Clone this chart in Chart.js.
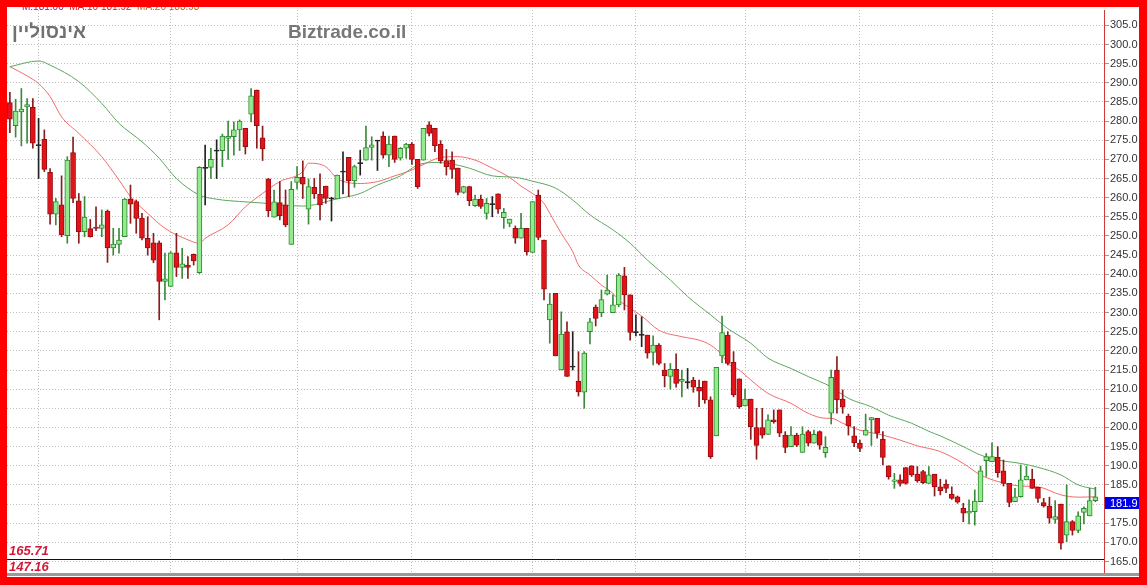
<!DOCTYPE html>
<html>
<head>
<meta charset="utf-8">
<script src="https://cdn.jsdelivr.net/npm/chart.js@4.4.1/dist/chart.umd.min.js"></script>
<style>
  body { margin: 0; background: #fff; }
  #wrap { position: relative; width: 1147px; height: 585px; overflow: hidden; }
  #chart { position: absolute; left: 0; top: 0; }
  .frame { position: absolute; background: #ff0000; }
  .lbl { position: absolute; white-space: nowrap; line-height: 1; }
</style>
</head>
<body>
<div id="wrap">
  <canvas id="chart" width="1147" height="585"></canvas>
  <div class="lbl" style="left:22px;top:1px;font:10px Arial;"><span style="color:#6a2d8a">M:181.00</span>&nbsp;&nbsp;<span style="color:#d22">MA:10 181.92</span>&nbsp;&nbsp;<span style="color:#b07020">MA:20 183.93</span></div>
  <div class="frame" style="left:0;top:0;width:1147px;height:7px;"></div>
  <div class="frame" style="left:0;top:0;width:7px;height:585px;"></div>
  <div class="frame" style="left:1139px;top:0;width:8px;height:585px;"></div>
  <div class="frame" style="left:0;top:577px;width:1147px;height:8px;"></div>
  <div style="position:absolute;left:7px;top:573px;width:1132px;height:3px;background:#9a9a9a;"></div>
  <div class="lbl" style="left:12px;top:21px;font:bold 19px Arial;color:#707070;direction:rtl;">אינסוליין</div>
  <div class="lbl" style="left:288px;top:21px;font:bold 19px Arial;color:#777;">Biztrade.co.il</div>
  <div class="lbl" style="left:9px;top:543px;font:italic bold 13px Arial;color:#d01a3a;">165.71</div>
  <div class="lbl" style="left:9px;top:559px;font:italic bold 13px Arial;color:#d01a3a;">147.16</div>
</div>
<script>
const opens = [
  284.8, 278.8, 282.4, 283.7, 283.6, 273.7, 275.2, 266.6, 255.7, 258.1,
  250.1, 271.8, 259.2, 251.1, 251.9, 252.3, 252.0, 256.5, 246.9, 247.8,
  249.8, 259.6, 259.0, 254.7, 249.4, 248.2, 248.2, 238.1, 236.8, 245.6,
  241.8, 242.4, 245.2, 240.4, 267.8, 267.9, 272.3, 272.3, 275.5, 275.9,
  277.7, 278.1, 281.8, 288.1, 275.6, 264.9, 254.9, 258.7, 258.1, 247.8,
  264.0, 265.3, 257.0, 262.7, 260.9, 263.0, 259.8, 259.7, 266.8, 270.5,
  264.4, 269.0, 269.8, 273.1, 274.9, 276.1, 271.1, 276.1, 270.3, 272.9,
  274.0, 270.0, 269.8, 279.0, 278.1, 273.9, 269.7, 269.8, 267.7, 261.4,
  262.9, 257.9, 259.6, 255.9, 258.3, 261.0, 254.8, 253.3, 252.0, 249.4,
  252.0, 245.7, 260.7, 248.9, 228.1, 235.0, 215.0, 225.0, 215.9, 212.1,
  209.2, 225.0, 231.4, 230.0, 234.8, 230.0, 232.0, 239.6, 234.6, 224.9,
  224.2, 224.1, 219.6, 221.5, 215.0, 213.3, 215.2, 212.0, 211.8, 212.4,
  210.5, 212.1, 207.2, 197.8, 218.7, 224.1, 217.0, 212.7, 205.6, 207.4,
  200.0, 200.0, 198.2, 202.0, 204.6, 198.0, 195.0, 198.0, 193.5, 198.9,
  195.9, 198.9, 193.4, 203.7, 215.0, 207.4, 203.0, 197.8, 195.9, 198.0,
  202.0, 202.4, 196.9, 190.0, 185.9, 186.3, 189.5, 190.0, 187.8, 188.5,
  185.4, 187.8, 184.5, 185.2, 182.6, 181.9, 178.9, 177.6, 178.0, 180.6,
  191.3, 191.1, 192.2, 188.7, 185.4, 180.6, 181.9, 186.3, 186.5, 184.4,
  180.4, 179.5, 176.0, 180.0, 171.9, 175.4, 173.1, 177.8, 176.9, 180.9,
];
const highs = [
  287.5, 285.7, 288.5, 285.9, 285.9, 280.7, 277.7, 267.6, 259.8, 265.7,
  270.7, 275.8, 261.1, 260.3, 254.3, 257.6, 256.8, 256.8, 252.0, 252.0,
  259.8, 263.3, 259.4, 255.9, 255.0, 250.7, 248.7, 245.5, 245.9, 250.7,
  246.8, 244.6, 245.3, 268.1, 273.7, 272.9, 275.1, 276.6, 280.0, 279.8,
  280.3, 278.1, 288.5, 288.1, 278.7, 265.0, 262.0, 264.2, 262.0, 264.2,
  268.1, 269.6, 264.9, 265.0, 266.2, 263.0, 260.1, 265.9, 272.0, 270.5,
  268.5, 272.4, 278.7, 275.9, 275.0, 277.2, 276.1, 276.1, 273.1, 274.2,
  274.4, 270.0, 278.1, 279.8, 278.1, 274.9, 272.6, 272.0, 267.7, 263.0,
  263.0, 260.7, 260.7, 259.8, 260.3, 261.0, 257.2, 254.4, 252.6, 255.9,
  252.0, 259.0, 262.0, 248.9, 235.0, 235.0, 230.2, 227.6, 225.0, 219.8,
  219.8, 228.5, 232.0, 235.9, 239.8, 234.6, 240.2, 241.8, 234.6, 229.4,
  228.9, 224.1, 223.9, 221.9, 216.7, 216.7, 219.2, 215.0, 215.4, 213.1,
  212.4, 212.1, 208.0, 215.7, 229.1, 225.0, 219.8, 212.7, 210.0, 207.4,
  205.0, 205.0, 203.3, 204.6, 204.6, 198.9, 200.2, 198.5, 200.2, 199.3,
  199.3, 199.1, 197.6, 215.0, 218.5, 209.8, 203.5, 200.2, 196.7, 203.5,
  202.6, 202.4, 198.9, 190.0, 188.0, 187.6, 189.5, 190.0, 189.8, 188.8,
  189.8, 187.8, 186.5, 186.3, 184.5, 182.1, 180.2, 181.1, 183.7, 189.9,
  193.2, 196.0, 195.0, 191.5, 185.4, 184.1, 190.2, 189.9, 189.1, 184.4,
  181.5, 181.8, 180.9, 180.0, 185.0, 175.7, 178.0, 179.3, 184.1, 184.4,
];
const lows = [
  277.0, 275.8, 273.5, 274.2, 272.9, 265.0, 266.8, 253.1, 252.9, 249.8,
  248.1, 258.7, 248.1, 249.8, 249.7, 251.4, 249.8, 243.1, 245.0, 245.5,
  249.8, 253.3, 250.7, 249.0, 245.0, 243.0, 228.1, 233.3, 236.8, 239.4,
  238.9, 238.9, 242.4, 240.2, 258.1, 265.0, 265.0, 268.1, 270.0, 271.1,
  272.3, 271.4, 279.8, 272.9, 269.7, 255.0, 254.9, 254.2, 252.4, 247.8,
  262.2, 259.8, 253.1, 259.8, 254.2, 258.5, 253.9, 259.7, 261.0, 260.3,
  262.7, 265.9, 269.8, 269.8, 267.1, 270.3, 268.1, 269.2, 269.8, 270.3,
  268.7, 262.4, 269.8, 276.1, 272.0, 269.0, 265.9, 265.0, 260.7, 261.1,
  257.9, 257.7, 257.2, 254.4, 255.0, 255.9, 252.0, 252.4, 248.1, 249.4,
  245.0, 245.7, 249.0, 233.3, 222.0, 218.7, 215.0, 213.3, 215.0, 208.2,
  205.0, 221.8, 226.5, 228.9, 234.6, 230.0, 231.5, 230.7, 222.8, 223.9,
  221.1, 218.1, 216.3, 216.3, 210.6, 210.0, 210.5, 208.0, 210.2, 209.2,
  205.4, 206.3, 191.9, 197.8, 216.9, 216.3, 208.0, 205.0, 205.6, 196.9,
  191.7, 197.2, 198.2, 201.1, 197.6, 193.4, 195.0, 195.0, 193.5, 195.2,
  195.9, 194.3, 192.2, 200.9, 203.7, 203.7, 198.0, 195.0, 193.7, 198.0,
  195.3, 197.2, 190.2, 186.5, 184.1, 184.7, 185.2, 187.2, 185.7, 185.3,
  185.4, 182.1, 182.4, 183.0, 181.2, 180.2, 175.4, 174.8, 174.5, 180.6,
  187.2, 191.1, 187.0, 184.7, 179.3, 180.6, 181.8, 186.3, 184.1, 180.4,
  179.2, 175.0, 175.0, 168.2, 170.2, 171.9, 172.5, 174.8, 176.9, 180.6,
];
const closes = [
  280.5, 282.6, 283.1, 284.3, 274.2, 273.7, 267.4, 255.7, 259.0, 250.3,
  269.8, 259.8, 251.1, 254.9, 249.8, 252.0, 252.9, 246.9, 247.9, 248.9,
  259.6, 258.3, 254.6, 249.4, 246.9, 243.7, 238.1, 238.8, 245.6, 241.8,
  242.7, 241.8, 243.5, 267.9, 267.8, 270.0, 272.3, 276.1, 276.0, 277.7,
  280.0, 273.3, 286.6, 278.8, 272.7, 256.6, 258.9, 255.3, 252.9, 262.2,
  265.3, 263.5, 262.9, 261.0, 258.1, 259.8, 259.8, 265.9, 266.8, 264.4,
  268.1, 269.0, 273.1, 273.8, 274.9, 271.1, 274.0, 270.0, 272.9, 274.0,
  270.0, 262.9, 278.1, 276.8, 273.6, 269.6, 268.1, 267.4, 261.4, 262.9,
  259.2, 259.6, 257.7, 258.5, 258.3, 257.0, 256.2, 254.4, 249.4, 252.0,
  245.9, 259.0, 249.6, 236.1, 232.2, 218.7, 224.4, 213.3, 215.9, 209.3,
  219.4, 227.6, 228.5, 233.4, 235.9, 232.0, 239.8, 234.6, 224.8, 224.9,
  224.2, 219.4, 221.5, 216.7, 213.5, 215.2, 211.5, 212.6, 211.8, 210.5,
  209.5, 207.2, 192.4, 215.7, 224.8, 216.7, 208.5, 205.4, 207.4, 200.2,
  195.3, 198.0, 202.0, 201.5, 198.5, 194.8, 198.0, 195.4, 198.3, 195.9,
  198.2, 195.4, 194.8, 213.1, 207.2, 205.3, 200.4, 196.0, 194.5, 199.3,
  202.6, 198.5, 192.2, 187.1, 186.3, 185.4, 185.4, 187.6, 186.1, 185.6,
  187.6, 184.5, 183.5, 184.1, 181.5, 180.5, 177.6, 178.2, 180.8, 188.7,
  192.4, 192.4, 188.2, 185.4, 180.4, 181.9, 186.3, 187.3, 184.1, 181.5,
  179.5, 176.3, 176.7, 169.8, 175.4, 173.1, 176.9, 178.9, 180.9, 181.9,
];

// moving averages at sample candles
const maShortIdx = [0, 3, 5, 7, 9, 12, 16, 19, 21, 24, 27, 31, 33, 34, 38, 41, 44, 47, 51, 52, 55, 57, 61, 64, 67, 70, 73, 75, 78, 81, 84, 87, 89, 91, 93, 94, 96, 98, 99, 101, 103, 105, 106, 108, 110, 113, 117, 120, 122, 124, 125, 127, 129, 132, 136, 139, 142, 143, 145, 148, 152, 155, 158, 162, 166, 169, 172, 176, 179, 183, 186, 189];
const maShortVal = [294.2, 291.8, 289.8, 286.4, 281.1, 276.8, 270.7, 264.6, 260.3, 255.9, 252.0, 249.0, 248.1, 249.4, 252.9, 257.6, 261.1, 264.2, 266.8, 269.0, 268.1, 265.0, 263.7, 264.2, 265.7, 267.2, 269.4, 270.5, 270.7, 269.8, 267.7, 265.3, 263.0, 261.1, 258.5, 255.9, 250.7, 245.9, 242.4, 239.8, 237.2, 235.0, 233.3, 231.1, 229.1, 225.4, 223.7, 222.8, 221.5, 218.9, 216.7, 215.0, 212.4, 208.9, 206.3, 203.7, 202.4, 202.4, 201.1, 199.3, 198.0, 196.7, 195.2, 193.7, 190.6, 187.6, 185.9, 184.7, 184.5, 182.4, 181.8, 181.9];
const maLongIdx = [0, 5, 7, 12, 16, 19, 23, 26, 29, 33, 36, 40, 44, 47, 51, 57, 61, 64, 68, 71, 74, 77, 80, 84, 88, 91, 95, 98, 101, 105, 108, 111, 115, 118, 122, 125, 129, 132, 136, 139, 143, 146, 150, 153, 157, 160, 162, 166, 169, 172, 176, 179, 183, 186, 189];
const maLongVal = [294.2, 295.7, 294.6, 290.3, 284.6, 279.4, 274.6, 270.3, 265.0, 260.7, 259.6, 259.0, 258.6, 258.1, 257.8, 259.7, 261.1, 263.3, 265.7, 268.5, 269.2, 268.8, 267.7, 265.7, 265.3, 264.3, 262.5, 259.4, 255.5, 251.6, 248.1, 243.7, 238.5, 234.2, 229.4, 225.8, 222.0, 218.1, 215.4, 213.3, 210.6, 207.6, 205.4, 203.2, 201.1, 199.0, 197.8, 195.0, 192.8, 191.5, 190.6, 189.6, 187.6, 185.0, 183.9];

// first trading day of each month (vertical grid)
const monthStarts = [5, 28, 50, 70, 91, 109, 128, 148, 171];
const levelLines = [165.71, 147.16];

// one spare slot at the right edge
const labels = Array.from({ length: opens.length + 1 }, (_, i) => i);

const kind = (i) => {
  if (closes[i] > opens[i]) return 'up';
  if (closes[i] < opens[i]) return 'down';
  return 'flat';
};

const bodyFill = { up: '#93ea8f', down: '#e2141a', flat: '#222222' };
const bodyEdge = { up: '#2f8a2f', down: '#9a0c10', flat: '#222222' };
const wickColor = { up: '#3c8a3c', down: '#8a1c1c', flat: '#222222' };

const bodies = opens.map((o, i) => {
  const c = closes[i];
  if (Math.abs(o - c) < 0.3) {
    return [c - 0.15, c + 0.15];
  }
  return [Math.min(o, c), Math.max(o, c)];
});
const wicks = lows.map((l, i) => [l, highs[i]]);

const toLine = (idx, vals) => {
  const out = labels.map(() => null);
  idx.forEach((ix, k) => {
    out[ix] = vals[k];
  });
  return out;
};

const extrasPlugin = {
  id: 'extras',
  afterDatasetsDraw(chart) {
    const { ctx, chartArea, scales } = chart;
    const ly = Math.round(scales.y.getPixelForValue(levelLines[0])) + 0.5;
    ctx.save();
    ctx.strokeStyle = '#111';
    ctx.lineWidth = 1;
    ctx.beginPath();
    ctx.moveTo(chartArea.left, ly);
    ctx.lineTo(chartArea.right, ly);
    ctx.stroke();
    ctx.restore();
  },
  afterDraw(chart) {
    const { ctx, chartArea, scales } = chart;
    const last = closes[closes.length - 1];
    const py = Math.round(scales.y.getPixelForValue(last));
    ctx.save();
    ctx.fillStyle = '#0000e6';
    ctx.fillRect(chartArea.right + 1, py, 34, 12);
    ctx.fillStyle = '#ffffff';
    ctx.font = '11px Arial';
    ctx.textBaseline = 'middle';
    ctx.fillText(last.toFixed(1), chartArea.right + 6, py + 6.5);
    ctx.restore();
  },
};

new Chart(document.getElementById('chart'), {
  type: 'bar',
  data: {
    labels: labels,
    datasets: [
      {
        type: 'line',
        data: toLine(maShortIdx, maShortVal),
        borderColor: '#f26a6a',
        borderWidth: 1,
        pointRadius: 0,
        spanGaps: true,
        cubicInterpolationMode: 'monotone',
        order: 4,
      },
      {
        type: 'line',
        data: toLine(maLongIdx, maLongVal),
        borderColor: '#5ea65e',
        borderWidth: 1,
        pointRadius: 0,
        spanGaps: true,
        cubicInterpolationMode: 'monotone',
        order: 3,
      },
      {
        data: wicks,
        backgroundColor: wicks.map((_, i) => wickColor[kind(i)]),
        barThickness: 1,
        grouped: false,
        order: 2,
      },
      {
        data: bodies,
        backgroundColor: bodies.map((_, i) => bodyFill[kind(i)]),
        borderColor: bodies.map((_, i) => bodyEdge[kind(i)]),
        borderWidth: 1,
        borderSkipped: false,
        barThickness: 5,
        grouped: false,
        order: 1,
      },
    ],
  },
  options: {
    responsive: false,
    animation: false,
    layout: { padding: { left: 7, top: 10, right: 0, bottom: 12 } },
    plugins: {
      legend: { display: false },
      tooltip: { enabled: false },
    },
    scales: {
      x: {
        type: 'category',
        offset: true,
        ticks: { display: false, autoSkip: false },
        grid: {
          offset: false,
          drawTicks: false,
          color: (ctx) => (monthStarts.includes(ctx.index) ? '#bdbdbd' : 'rgba(0,0,0,0)'),
        },
        border: { display: false, dash: [1, 2] },
        afterFit: (scale) => {
          scale.height = 0;
        },
      },
      y: {
        position: 'right',
        min: 162,
        max: 309,
        ticks: {
          stepSize: 5,
          includeBounds: false,
          padding: 1,
          color: '#333',
          font: { family: 'Arial', size: 11 },
          callback: (v) => Number(v).toFixed(1),
        },
        grid: {
          color: '#bfbfbf',
          tickLength: 5,
          tickColor: '#9a9a9a',
        },
        border: { display: true, color: '#d23a3a', width: 1, dash: [1, 2] },
        afterFit: (scale) => {
          scale.width = 43;
        },
      },
    },
  },
  plugins: [extrasPlugin],
});
</script>
</body>
</html>
